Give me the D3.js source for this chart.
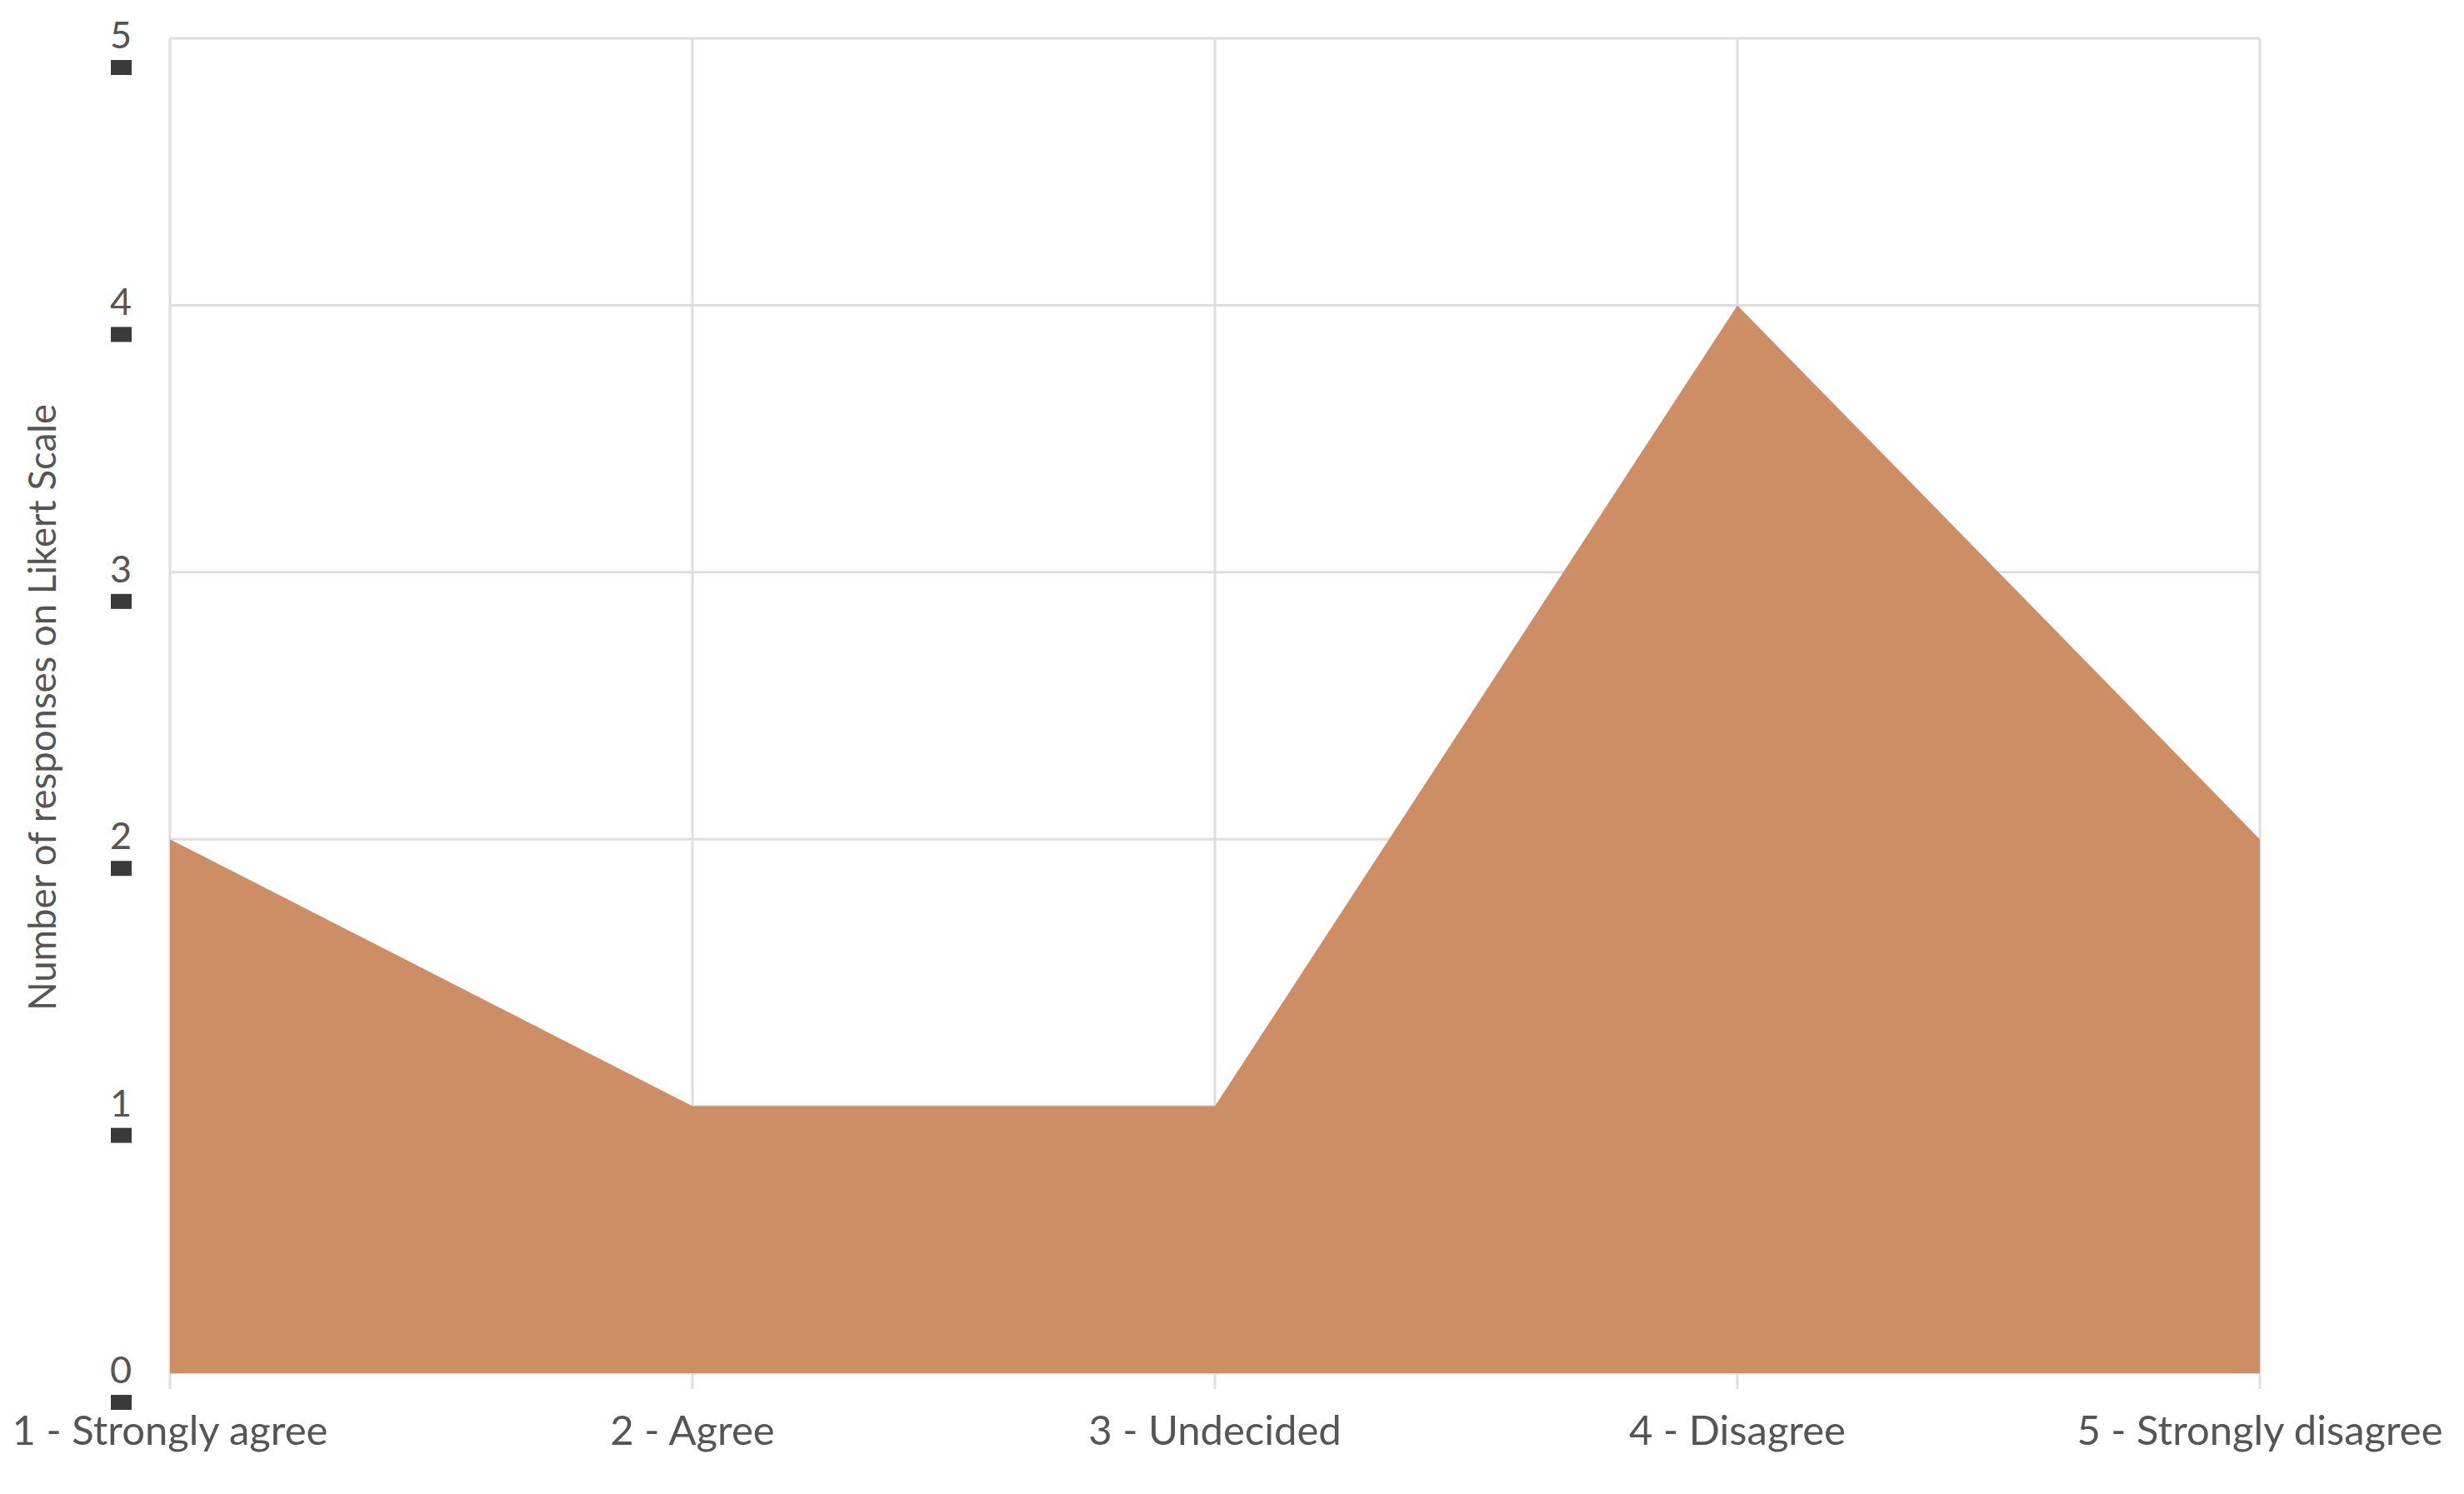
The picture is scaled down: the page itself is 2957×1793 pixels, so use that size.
<!DOCTYPE html>
<html>
<head>
<meta charset="utf-8">
<script src="https://cdn.jsdelivr.net/npm/d3@7"></script>
<style>
  html, body { margin: 0; padding: 0; background: #ffffff; }
  svg { display: block; }
</style>
</head>
<body>
<svg id="chart" width="2957" height="1793"></svg>
<script>
const categories = ["1 - Strongly agree", "2 - Agree", "3 - Undecided", "4 - Disagree", "5 - Strongly disagree"];
const responses = [2, 1, 1, 4, 2];
const yTicks = [0, 1, 2, 3, 4, 5];
const yTitle = "Number of responses on Likert Scale";

const W = 2957, H = 1793;
const margin = { left: 204, right: 245, top: 46, bottom: 145 };
const innerW = W - margin.left - margin.right;
const innerH = H - margin.top - margin.bottom;
const font = "Lato, 'Open Sans', sans-serif";
const textColor = "#555555";
const gridColor = "#dedede";

const svg = d3.select("#chart");
const g = svg.append("g").attr("transform", `translate(${margin.left},${margin.top})`);

const x = d3.scalePoint().domain(categories).range([0, innerW]);
const y = d3.scaleLinear().domain([0, 5]).range([innerH, 0]);

// horizontal gridlines
g.append("g").selectAll("line").data(yTicks).join("line")
  .attr("x1", 0).attr("x2", innerW)
  .attr("y1", d => y(d)).attr("y2", d => y(d))
  .attr("stroke", gridColor).attr("stroke-width", 3);

// vertical gridlines (extend slightly below as tick marks)
g.append("g").selectAll("line").data(categories).join("line")
  .attr("x1", d => x(d)).attr("x2", d => x(d))
  .attr("y1", 0).attr("y2", innerH + 19)
  .attr("stroke", gridColor).attr("stroke-width", 3);

// area
const area = d3.area()
  .x((d, i) => x(categories[i]))
  .y0(y(0))
  .y1(d => y(d));
g.append("path")
  .datum(responses)
  .attr("d", area)
  .attr("fill", "#cd8e66");

// y tick labels
const yAxisG = g.append("g");
yAxisG.selectAll("text").data(yTicks).join("text")
  .attr("x", -59).attr("y", d => y(d) - 5)
  .attr("text-anchor", "middle")
  .attr("dominant-baseline", "central")
  .attr("font-family", font).attr("font-size", 45)
  .attr("fill", textColor)
  .text(d => d);
// small square markers under each y tick label
yAxisG.selectAll("rect").data(yTicks).join("rect")
  .attr("x", -71).attr("y", d => y(d) + 26)
  .attr("width", 25).attr("height", 18)
  .attr("fill", "#3a3a3a");

// x tick labels
g.append("g").selectAll("text").data(categories).join("text")
  .attr("x", d => x(d)).attr("y", innerH + 86)
  .attr("text-anchor", "middle")
  .attr("font-family", font).attr("font-size", 49)
  .attr("fill", textColor)
  .text(d => d);

// y title
svg.append("text")
  .attr("transform", `translate(49,849) rotate(-90)`)
  .attr("text-anchor", "middle")
  .attr("dominant-baseline", "central")
  .attr("font-family", font).attr("font-size", 45.5)
  .attr("fill", textColor)
  .text(yTitle);
</script>
</body>
</html>
